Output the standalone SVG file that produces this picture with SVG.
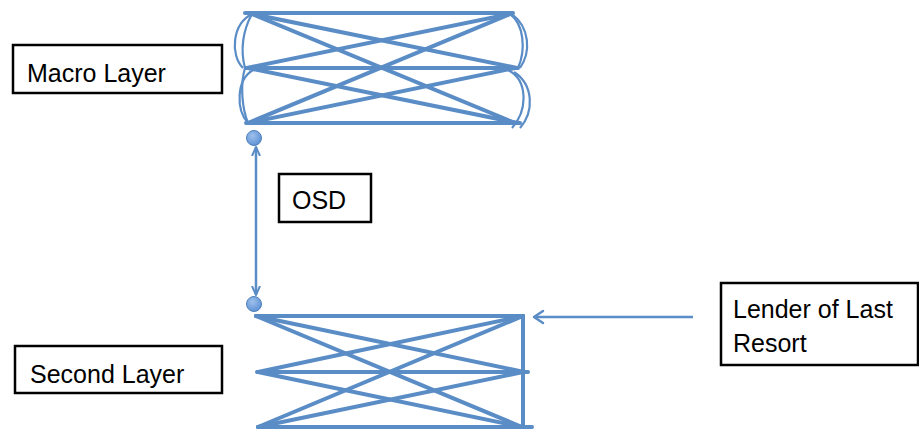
<svg xmlns="http://www.w3.org/2000/svg" width="919" height="432" viewBox="0 0 919 432">
<style>
.box{fill:#fff;stroke:#000;stroke-width:2.5}
.t{font-family:"Liberation Sans",Arial,sans-serif;font-size:25px;fill:#000}
.ln{stroke:#5A8CC6;stroke-width:4;stroke-linecap:round;fill:none}
.arc{stroke:#5A8CC6;stroke-width:2.2;fill:none}
.con{stroke:#5A8CC6;stroke-width:2.5;fill:none}
</style>
<defs>
<radialGradient id="g" cx="0.4" cy="0.35" r="0.7">
<stop offset="0" stop-color="#9DC0EC"/>
<stop offset="1" stop-color="#5B8FD3"/>
</radialGradient>
<marker id="ah" viewBox="0 0 10 10" refX="9" refY="5" markerWidth="4" markerHeight="4" orient="auto-start-reverse">
<path d="M0,1 L9,5 L0,9" fill="none" stroke="#5A8CC6" stroke-width="2"/>
</marker>
<marker id="open" viewBox="0 0 12 12" refX="1" refY="6" markerWidth="12" markerHeight="12" markerUnits="userSpaceOnUse" orient="auto">
<path d="M10,1 L1.5,6 L10,11" fill="none" stroke="#5A8CC6" stroke-width="2.5" stroke-linecap="round" transform="rotate(180 6 6)"/>
</marker>
</defs>

<g id="macro-network">
<line class="ln" x1="245" y1="13" x2="513" y2="13"/>
<line class="ln" x1="246" y1="68" x2="518" y2="68"/>
<line class="ln" x1="246" y1="123" x2="520" y2="123"/>
<line class="ln" x1="252" y1="14" x2="517" y2="68"/>
<line class="ln" x1="252" y1="14" x2="515" y2="123"/>
<line class="ln" x1="510" y1="14" x2="247" y2="68"/>
<line class="ln" x1="510" y1="14" x2="248" y2="123"/>
<line class="ln" x1="248" y1="68" x2="518" y2="123"/>
<line class="ln" x1="515" y1="68" x2="248" y2="123"/>
<path class="arc" d="M252,14 C232,24 230,55 243,68"/>
<path class="arc" d="M252,14 C243,30 240,50 245,68"/>
<path class="arc" d="M253,70 C236,80 236,110 248,123"/>
<path class="arc" d="M245,68 C240,85 242,108 248,123"/>
<path class="arc" d="M510,14 C524,24 526,50 518,68"/>
<path class="arc" d="M512,14 C530,28 531,52 520,68"/>
<path class="arc" d="M508,70 C528,80 528,110 512,128"/>
<path class="arc" d="M514,72 C534,85 534,112 520,128"/>
</g>

<g id="second-network">
<line class="ln" x1="256" y1="316" x2="523" y2="316"/>
<line class="ln" x1="257" y1="372" x2="528" y2="372"/>
<line class="ln" x1="258" y1="427" x2="532" y2="427"/>
<line class="ln" x1="523" y1="316" x2="523" y2="427"/>
<line class="ln" x1="256" y1="316" x2="524" y2="372"/>
<line class="ln" x1="256" y1="316" x2="522" y2="427"/>
<line class="ln" x1="523" y1="316" x2="258" y2="372"/>
<line class="ln" x1="523" y1="316" x2="258" y2="427"/>
<line class="ln" x1="258" y1="372" x2="522" y2="427"/>
<line class="ln" x1="523" y1="372" x2="258" y2="427"/>
</g>

<g id="macro-box">
<rect class="box" x="13" y="45" width="209" height="48"/>
<text class="t" x="27" y="82">Macro Layer</text>
</g>
<g id="second-box">
<rect class="box" x="15" y="346" width="207" height="47"/>
<text class="t" x="30" y="383">Second Layer</text>
</g>
<g id="osd-box">
<rect class="box" x="279" y="174" width="92" height="48"/>
<text class="t" x="292" y="209">OSD</text>
</g>
<g id="lender-box">
<rect class="box" x="721" y="283" width="197" height="82"/>
<text class="t" x="733" y="318">Lender of Last</text>
<text class="t" x="733" y="352">Resort</text>
</g>

<g id="node-top"><circle cx="254" cy="138" r="7.5" fill="url(#g)" stroke="#4F81BD" stroke-width="1"/></g>
<g id="node-bottom"><circle cx="254" cy="304" r="7.5" fill="url(#g)" stroke="#4F81BD" stroke-width="1"/></g>

<g id="connectors">
<line class="con" x1="256" y1="147" x2="256" y2="295" marker-start="url(#ah)" marker-end="url(#ah)"/>
<line class="con" x1="693" y1="317" x2="534" y2="317"/>
<path d="M543,311 L534,317 L543,323" fill="none" stroke="#5A8CC6" stroke-width="2.5" stroke-linecap="round" stroke-linejoin="round"/>
</g>
</svg>
